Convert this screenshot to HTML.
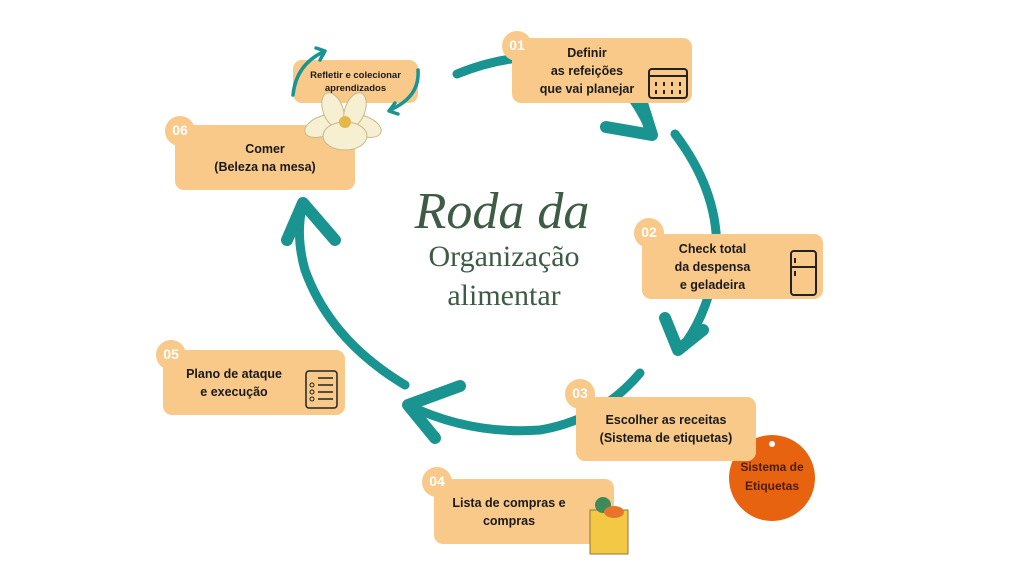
<!DOCTYPE html>
<html><head><meta charset="utf-8"><style>
body{margin:0;width:1024px;height:576px;background:#fff;overflow:hidden;position:relative;font-family:"Liberation Sans",sans-serif}
.b{position:absolute;background:#f9c98a;border-radius:9px;display:flex;align-items:center;justify-content:center;text-align:center;font-weight:bold;font-size:12.5px;line-height:18px;color:#1a1a1a}
.n{position:absolute;width:30px;height:30px;border-radius:50%;background:#f9c98a;color:#fff;font-weight:bold;font-size:14px;line-height:28px;text-align:center}
.t{position:absolute;font-family:"Liberation Serif",serif;color:#3e5b45;text-align:center;width:300px}
</style></head><body>
<svg width="1024" height="576" style="position:absolute;left:0;top:0">
<g fill="none" stroke="#1a9490" stroke-width="9" stroke-linecap="round" stroke-linejoin="round">
<path d="M457 74 Q540 40 610 75 Q635 95 650 130"/>
<path d="M606 127 L652 135 L642 103" stroke-width="12"/>
<path d="M675 134 Q725 200 715 270 Q705 320 680 350"/>
<path d="M665 318 L678 350 L703 330" stroke-width="12"/>
<path d="M640 373 Q600 420 540 430 Q470 435 408 405"/>
<path d="M460 386 L408 405 L435 438" stroke-width="12"/>
<path d="M405 385 Q330 340 305 270 Q295 235 303 203"/>
<path d="M287 240 L303 203 L335 240" stroke-width="12"/>
</g>
<circle cx="772" cy="478" r="43" fill="#e8630f"/>
<circle cx="772" cy="444" r="3" fill="#fff"/>
</svg>
<div class="b" style="left:512px;top:38px;width:180px;height:65px;padding-right:30px;box-sizing:border-box">Definir<br>as refeições<br>que vai planejar</div>
<div class="n" style="left:502px;top:31px">01</div>
<svg style="position:absolute;left:648px;top:66px" width="40" height="34"><rect x="1" y="3" width="38" height="29" rx="3" fill="none" stroke="#222" stroke-width="2"/><line x1="1" y1="10" x2="39" y2="10" stroke="#222" stroke-width="2"/><g stroke="#222" stroke-width="2"><line x1="8" y1="16" x2="8" y2="20"/><line x1="16" y1="16" x2="16" y2="20"/><line x1="24" y1="16" x2="24" y2="20"/><line x1="32" y1="16" x2="32" y2="20"/><line x1="8" y1="24" x2="8" y2="28"/><line x1="16" y1="24" x2="16" y2="28"/><line x1="24" y1="24" x2="24" y2="28"/><line x1="32" y1="24" x2="32" y2="28"/></g></svg>
<div class="b" style="left:293px;top:60px;width:125px;height:43px;font-size:9.5px;line-height:13px">Refletir e colecionar<br>aprendizados</div>
<div class="b" style="left:175px;top:125px;width:180px;height:65px">Comer<br>(Beleza na mesa)</div>
<div class="n" style="left:165px;top:116px">06</div>
<svg style="position:absolute;left:303px;top:88px" width="80" height="68"><g fill="#f6efd2" stroke="#c9b98a"><ellipse cx="20" cy="38" rx="19" ry="10" transform="rotate(-20 20 38)"/><ellipse cx="60" cy="38" rx="19" ry="10" transform="rotate(20 60 38)"/><ellipse cx="30" cy="22" rx="10" ry="18" transform="rotate(-20 30 22)"/><ellipse cx="52" cy="22" rx="10" ry="18" transform="rotate(20 52 22)"/><ellipse cx="42" cy="48" rx="22" ry="14"/></g><circle cx="42" cy="34" r="6" fill="#e3b84a"/></svg>
<svg width="1024" height="576" style="position:absolute;left:0;top:0">
<g fill="none" stroke="#1a9490" stroke-width="3.5" stroke-linecap="round" stroke-linejoin="round">
<path d="M293 95 Q296 65 323 52"/>
<path d="M316 48 L325 51 L320 60"/>
<path d="M418 70 Q420 97 390 110"/>
<path d="M395 103 L389 111 L398 114"/>
</g></svg>
<div class="b" style="left:642px;top:234px;width:181px;height:65px;padding-right:40px;box-sizing:border-box">Check total<br>da despensa<br>e geladeira</div>
<div class="n" style="left:634px;top:218px">02</div>
<svg style="position:absolute;left:790px;top:250px" width="28" height="48"><rect x="1" y="1" width="25" height="44" rx="3" fill="none" stroke="#222" stroke-width="2"/><line x1="1" y1="17" x2="26" y2="17" stroke="#222" stroke-width="2"/><line x1="5" y1="8" x2="5" y2="13" stroke="#222" stroke-width="2"/><line x1="5" y1="21" x2="5" y2="26" stroke="#222" stroke-width="2"/></svg>
<div class="b" style="left:163px;top:350px;width:182px;height:65px;padding-right:40px;box-sizing:border-box">Plano de ataque<br>e execução</div>
<div class="n" style="left:156px;top:340px">05</div>
<svg style="position:absolute;left:305px;top:370px" width="34" height="40"><rect x="1" y="1" width="31" height="37" rx="3" fill="none" stroke="#222" stroke-width="1.5"/><g stroke="#222" stroke-width="1.5"><line x1="13" y1="8" x2="28" y2="8"/><line x1="13" y1="15" x2="28" y2="15"/><line x1="13" y1="22" x2="28" y2="22"/><line x1="13" y1="29" x2="28" y2="29"/></g><g fill="none" stroke="#222"><circle cx="7" cy="15" r="2"/><circle cx="7" cy="22" r="2"/><circle cx="7" cy="29" r="2"/></g></svg>
<div class="b" style="left:576px;top:397px;width:180px;height:64px">Escolher as receitas<br>(Sistema de etiquetas)</div>
<div class="n" style="left:565px;top:379px">03</div>
<div class="b" style="left:434px;top:479px;width:180px;height:65px;padding-right:30px;box-sizing:border-box">Lista de compras e<br>compras</div>
<div class="n" style="left:422px;top:467px">04</div>
<svg style="position:absolute;left:588px;top:490px" width="45" height="66"><rect x="2" y="20" width="38" height="44" fill="#f3c845" stroke="#8a7a30"/><circle cx="15" cy="15" r="8" fill="#3f8a5a"/><ellipse cx="26" cy="22" rx="10" ry="6" fill="#e8732a"/></svg>
<div style="position:absolute;left:727px;top:458px;width:90px;text-align:center;font-weight:bold;font-size:12px;line-height:19px;color:#4a1e08">Sistema de<br>Etiquetas</div>
<div class="t" style="left:352px;top:180px;font-size:52px;font-style:italic;line-height:64px">Roda da</div>
<div class="t" style="left:354px;top:238px;font-size:30px;line-height:38px">Organização</div>
<div class="t" style="left:354px;top:277px;font-size:30px;line-height:38px">alimentar</div>
</body></html>
